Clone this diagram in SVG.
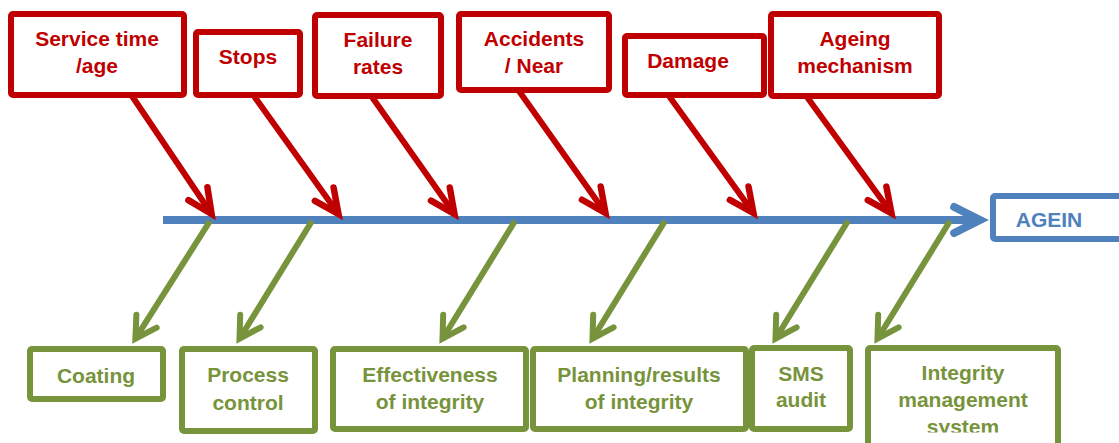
<svg xmlns="http://www.w3.org/2000/svg" width="1119" height="443" viewBox="0 0 1119 443">
<style>
text{font-family:"Liberation Sans",Arial,sans-serif;font-weight:bold;font-size:21px;text-anchor:middle}
.rb{fill:#fff;stroke:#C00000;stroke-width:6}
.gb{fill:#fff;stroke:#77933C;stroke-width:6}
.bb{fill:#fff;stroke:#4F81BD;stroke-width:6}
.rt{fill:#C00000}
.gt{fill:#77933C}
.bt{fill:#4F81BD}
.ra{stroke:#C00000;stroke-width:6;fill:none;marker-end:url(#mr)}
.ga{stroke:#77933C;stroke-width:6;fill:none;marker-end:url(#mg)}
.spine{stroke:#4F81BD;stroke-width:8;fill:none;marker-end:url(#mb)}
</style>
<defs>
<marker id="mr" markerUnits="userSpaceOnUse" orient="auto" overflow="visible" markerWidth="1" markerHeight="1"><path d="M-24.5,-11.5 L0,0 L-24.5,11.5" fill="none" stroke="#C00000" stroke-width="6.5" stroke-linecap="round" stroke-linejoin="miter"/></marker>
<marker id="mg" markerUnits="userSpaceOnUse" orient="auto" overflow="visible" markerWidth="1" markerHeight="1"><path d="M-20.8,-12 L0,0 L-20.8,12" fill="none" stroke="#77933C" stroke-width="6" stroke-linecap="round" stroke-linejoin="miter"/></marker>
<marker id="mb" markerUnits="userSpaceOnUse" orient="auto" overflow="visible" markerWidth="1" markerHeight="1"><path d="M-25.8,-13 L0,0 L-25.8,13" fill="none" stroke="#4F81BD" stroke-width="8" stroke-linecap="round" stroke-linejoin="miter"/></marker>
<clipPath id="clipsys"><rect x="860" y="340" width="210" height="92.5"/></clipPath>
</defs>
<g id="connectors">
<line class="spine" x1="163" y1="220" x2="980" y2="220"/>
<line class="ra" x1="132" y1="96" x2="211.6" y2="214"/>
<line class="ra" x1="254" y1="96" x2="338.5" y2="214.1"/>
<line class="ra" x1="372" y1="97" x2="454.5" y2="214.1"/>
<line class="ra" x1="519" y1="91" x2="605.5" y2="213.1"/>
<line class="ra" x1="669" y1="96" x2="753.5" y2="213.1"/>
<line class="ra" x1="807" y1="97" x2="891.5" y2="213.2"/>
<line class="ga" x1="210" y1="221" x2="135.4" y2="338.7"/>
<line class="ga" x1="312" y1="221" x2="239.5" y2="338.7"/>
<line class="ga" x1="515" y1="221" x2="442.5" y2="338.7"/>
<line class="ga" x1="665" y1="221" x2="592.5" y2="338.7"/>
<line class="ga" x1="848" y1="221" x2="775.5" y2="338.7"/>
<line class="ga" x1="950" y1="221" x2="877.5" y2="338.7"/>
</g>
<g id="n-service">
<rect class="rb" x="11" y="14" width="173" height="81" rx="2"/>
<text class="rt" x="97" y="46">Service time</text>
<text class="rt" x="97" y="73">/age</text>
</g>
<g id="n-stops">
<rect class="rb" x="196" y="32" width="104" height="63" rx="2"/>
<text class="rt" x="248" y="64">Stops</text>
</g>
<g id="n-failure">
<rect class="rb" x="315" y="15" width="126" height="81" rx="2"/>
<text class="rt" x="378" y="47">Failure</text>
<text class="rt" x="378" y="74">rates</text>
</g>
<g id="n-accidents">
<rect class="rb" x="459" y="14" width="150" height="76" rx="2"/>
<text class="rt" x="534" y="46">Accidents</text>
<text class="rt" x="534" y="73">/ Near</text>
</g>
<g id="n-damage">
<rect class="rb" x="625" y="36" width="139" height="59" rx="2"/>
<text class="rt" x="688" y="68">Damage</text>
</g>
<g id="n-ageing">
<rect class="rb" x="771" y="14" width="168" height="82" rx="2"/>
<text class="rt" x="855" y="46">Ageing</text>
<text class="rt" x="855" y="73">mechanism</text>
</g>
<g id="n-agein">
<rect class="bb" x="993" y="196" width="160" height="43" rx="2"/>
<text class="bt" x="1049" y="227">AGEIN</text>
</g>
<g id="n-coating">
<rect class="gb" x="30" y="349" width="133" height="50" rx="2"/>
<text class="gt" x="96" y="383">Coating</text>
</g>
<g id="n-process">
<rect class="gb" x="182" y="349" width="133" height="82" rx="2"/>
<text class="gt" x="248" y="382">Process</text>
<text class="gt" x="248" y="410">control</text>
</g>
<g id="n-effectiveness">
<rect class="gb" x="333" y="349" width="193" height="80" rx="2"/>
<text class="gt" x="430" y="382">Effectiveness</text>
<text class="gt" x="430" y="409">of integrity</text>
</g>
<g id="n-planning">
<rect class="gb" x="533" y="349" width="213" height="80" rx="2"/>
<text class="gt" x="639" y="382">Planning/results</text>
<text class="gt" x="639" y="409">of integrity</text>
</g>
<g id="n-sms">
<rect class="gb" x="752" y="348" width="98" height="81" rx="2"/>
<text class="gt" x="801" y="381">SMS</text>
<text class="gt" x="801" y="407">audit</text>
</g>
<g id="n-integrity">
<rect class="gb" x="868" y="348" width="190" height="110" rx="2"/>
<text class="gt" x="963" y="380">Integrity</text>
<text class="gt" x="963" y="407">management</text>
<text class="gt" x="963" y="434" clip-path="url(#clipsys)">system</text>
</g>
</svg>
